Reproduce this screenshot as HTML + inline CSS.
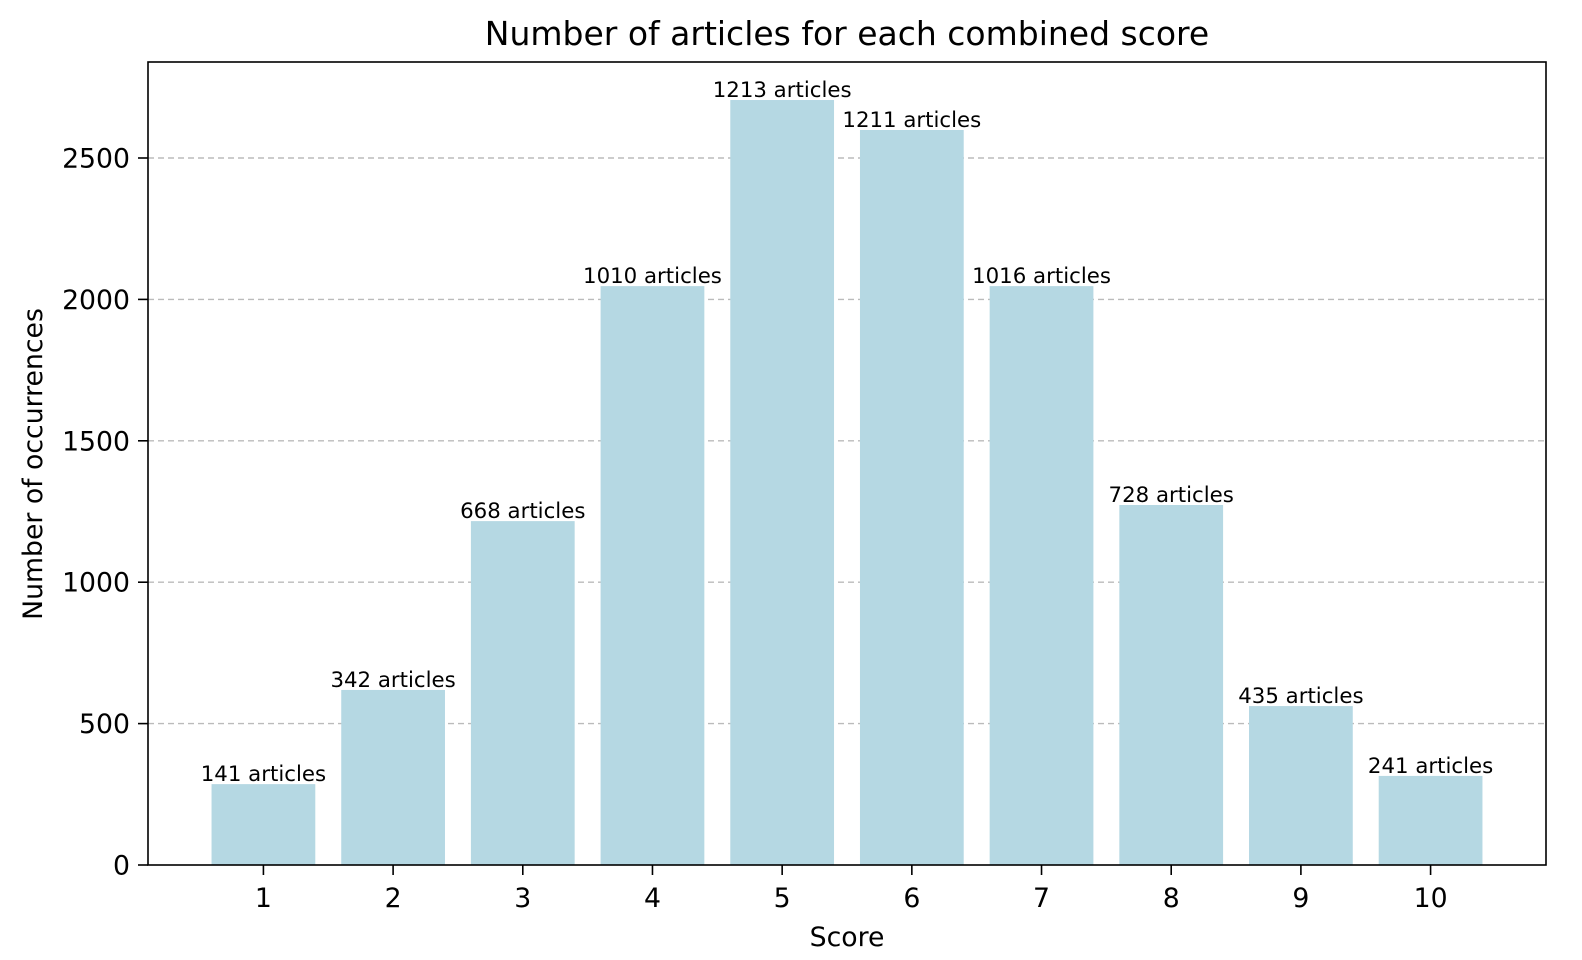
<!DOCTYPE html>
<html><head><meta charset="utf-8"><style>
html,body{margin:0;padding:0;background:#fff;overflow:hidden;width:1582px;height:960px;}
svg{display:block;font-family:"DejaVu Sans","Liberation Sans",sans-serif;}
</style></head><body>
<svg id="chart" width="1582" height="960" xmlns="http://www.w3.org/2000/svg">
<text x="847" y="45" text-anchor="middle" font-size="33" fill="#000">Number of articles for each combined score</text>
<text x="847" y="946" text-anchor="middle" font-size="26.7" fill="#000">Score</text>
<text transform="translate(42,464) rotate(-90)" text-anchor="middle" font-size="26.7" fill="#000">Number of occurrences</text>
<g id="grid"></g><g id="bars"></g><g id="labels"></g><g id="ticks"></g>
<rect x="148" y="62" width="1398" height="803" fill="none" stroke="#000" stroke-width="1.6"/>
</svg>
<script>
const categories = [1,2,3,4,5,6,7,8,9,10];
const values = [286,619,1216,2047,2705,2599,2047,1273,562,315];
const barLabels = ["141 articles","342 articles","668 articles","1010 articles","1213 articles","1211 articles","1016 articles","728 articles","435 articles","241 articles"];
const yTicks = [0,500,1000,1500,2000,2500];

const L=148,R=1546,T=62,B=865;
const xmin=0.11,xmax=10.89,ymax=(B-T)/(707/2500);
const xs=v=>L+(v-xmin)/(xmax-xmin)*(R-L);
const ys=v=>B-v/ymax*(B-T);
const NS="http://www.w3.org/2000/svg";
function mk(tag,attrs,parent,text){const e=document.createElementNS(NS,tag);for(const k in attrs)e.setAttribute(k,attrs[k]);if(text!==undefined)e.textContent=text;document.getElementById(parent).appendChild(e);return e;}
yTicks.forEach(t=>{
  const y=ys(t);
  if(t>0){const g=mk('line',{x1:L,x2:R,y1:y,y2:y,stroke:'#bbb','stroke-dasharray':'6,4','stroke-width':1.4},'grid');
  
  }
  const tk=mk('line',{x1:L-10,x2:L,y1:y,y2:y,stroke:'#000','stroke-width':1.6},'ticks');
  
  
  const tl=mk('text',{x:L-18,y:y+9.5,'text-anchor':'end','font-size':26.7},'ticks',String(t));
  
  
});
const bw=0.8;
categories.forEach((c,i)=>{
  const x0=xs(c-bw/2),x1=xs(c+bw/2),y=ys(values[i]);
  const r=mk('rect',{x:x0,y:y,width:x1-x0,height:B-y,fill:'#b5d8e3'},'bars');
  
  
  const lb=mk('text',{x:xs(c),y:y-3,'text-anchor':'middle','font-size':21.3},'labels',barLabels[i]);
  
  
  const tk=mk('line',{x1:xs(c),x2:xs(c),y1:B,y2:B+10,stroke:'#000','stroke-width':1.6},'ticks');
  
  
  const tl=mk('text',{x:xs(c),y:B+42,'text-anchor':'middle','font-size':26.7},'ticks',String(c));
  
  
});
</script>
</body></html>
